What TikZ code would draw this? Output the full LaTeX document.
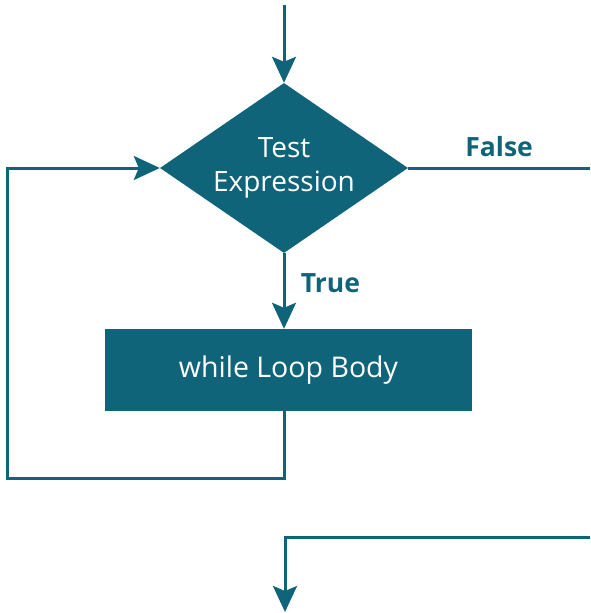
\documentclass[tikz,border=0pt]{standalone}
\usepackage{fontspec}
\setmainfont{Open Sans}
\usetikzlibrary{shapes.geometric,arrows.meta}
\definecolor{loopteal}{RGB}{16,100,122}

\begin{document}
\begin{tikzpicture}[x=1pt,y=-1pt,
	flow/.style={draw=loopteal,line width=3pt},
	tip/.style={-{Stealth[length=26pt,width=24pt,inset=5pt]}},
	decision/.style={diamond,fill=loopteal,text=white,inner sep=0pt,aspect=1.46,
		minimum width=248pt,minimum height=170pt,align=center,
		font=\fontsize{28}{34}\selectfont},
	block/.style={rectangle,fill=loopteal,text=white,minimum width=367pt,
		minimum height=82pt,font=\fontsize{28.5}{34}\selectfont},
	lbl/.style={text=loopteal,font=\bfseries\fontsize{26.5}{30}\selectfont}]
	\useasboundingbox (0,0) rectangle (590,613);

	\node[decision] (test) at (284,168) {Test\\Expression};
	\node[block] (body) at (288.5,370) {while Loop Body};

	\coordinate (start) at (284,5);
	\coordinate (back) at (7,478);
	\coordinate (falseend) at (590,168);
	\coordinate (exitin) at (590,537);
	\coordinate (exit) at (285,612);

	\draw[flow,tip] (start) -- (test.north);
	\draw[flow,tip] (test.south) -- node[lbl,right=12pt,pos=0.4]{True} (test.south |- body.north);
	\draw[flow,tip] (body.south -| test.south) |- (back) |- (test.west);
	\draw[flow] (test.east) -- node[lbl,above=6pt]{False} (falseend);
	\draw[flow,tip] (exitin) -| (exit);
\end{tikzpicture}
\end{document}
